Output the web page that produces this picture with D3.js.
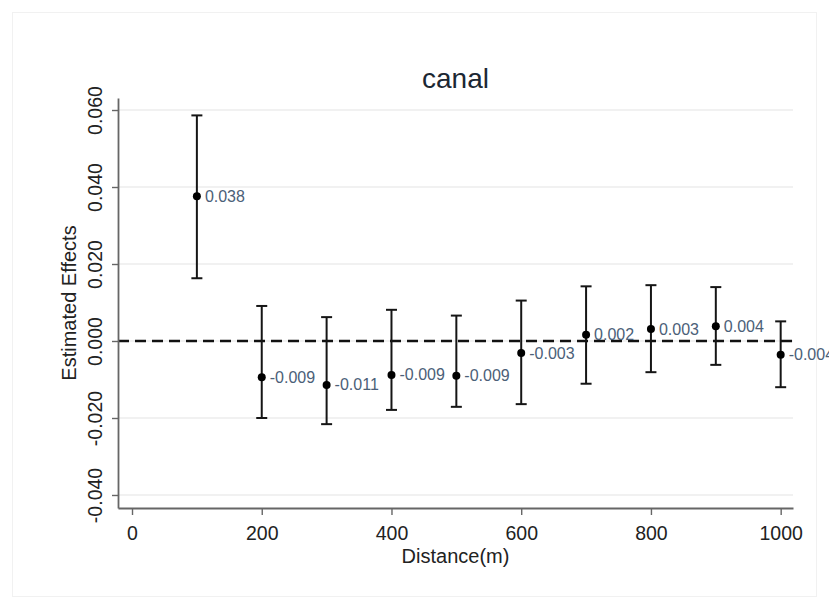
<!DOCTYPE html>
<html>
<head>
<meta charset="utf-8">
<script src="https://cdn.jsdelivr.net/npm/d3@7"></script>
<style>
  body { margin: 0; background: #fff; }
  text { font-family: "Liberation Sans", Arial, sans-serif; }
</style>
</head>
<body>
<script>
// chart data
var distances = [100, 200, 300, 400, 500, 600, 700, 800, 900, 1000];
var estimates = [0.0376, -0.0094, -0.0114, -0.0088, -0.0090, -0.0031, 0.0016, 0.0031, 0.0038, -0.0036];
var ciLower = [0.0163, -0.0200, -0.0216, -0.0179, -0.0171, -0.0164, -0.0111, -0.0081, -0.0062, -0.0120];
var ciUpper = [0.0586, 0.0091, 0.0062, 0.0081, 0.0066, 0.0105, 0.0142, 0.0145, 0.0140, 0.0051];
var xTicks = [0, 200, 400, 600, 800, 1000];
var yTicks = [-0.04, -0.02, 0, 0.02, 0.04, 0.06];
var title = "canal";
var xTitle = "Distance(m)";
var yTitle = "Estimated Effects";

// set the dimensions and margins of the graph
var W = 829, H = 610;
var margin = {top: 98, right: 36, bottom: 102, left: 118},
    width = W - margin.left - margin.right,
    height = H - margin.top - margin.bottom;

var fmt = d3.formatLocale({decimal: ".", thousands: ",", grouping: [3], currency: ["", ""], minus: "-"}).format(".3f");

// set the ranges
var x = d3.scaleLinear().domain([-21.6, 1019]).range([0, width]);
var y = d3.scaleLinear().domain([-0.04338, 0.06312]).range([height, 0]);

var data = distances.map(function(d, i) {
  return {dist: d, est: estimates[i], lo: ciLower[i], hi: ciUpper[i]};
});

var svg0 = d3.select("body").append("svg")
    .attr("width", W)
    .attr("height", H);

// faint outer frame
svg0.append("rect")
    .attr("x", 12.5).attr("y", 12.5)
    .attr("width", 804).attr("height", 584)
    .attr("fill", "none")
    .attr("stroke", "#f1f1f1");

var svg = svg0.append("g")
    .attr("transform", "translate(" + margin.left + "," + margin.top + ")");

// gridlines
svg.append("g")
  .selectAll("line")
  .data(yTicks)
  .enter().append("line")
    .attr("x1", 0).attr("x2", width)
    .attr("y1", function(d) { return y(d); })
    .attr("y2", function(d) { return y(d); })
    .attr("stroke", "#ececec")
    .attr("stroke-width", 1.5);

// zero reference line
svg.append("line")
    .attr("x1", 0).attr("x2", width - 1)
    .attr("y1", y(0)).attr("y2", y(0))
    .attr("stroke", "#111")
    .attr("stroke-width", 2.6)
    .attr("stroke-dasharray", "11,6");

// Add the X Axis
var xAxis = svg.append("g")
    .attr("transform", "translate(0," + height + ")")
    .call(d3.axisBottom(x).tickValues(xTicks).tickFormat(d3.format("d"))
      .tickSize(7).tickPadding(11).tickSizeOuter(0));
xAxis.select(".domain").attr("stroke", "#666").attr("stroke-width", 1.8);
xAxis.selectAll(".tick line").attr("stroke", "#666").attr("stroke-width", 1.4);
xAxis.selectAll(".tick text")
    .attr("font-size", 19.5)
    .attr("fill", "#222")
    .style("font-family", "Liberation Sans, Arial, sans-serif");

// Add the Y Axis
var yAxis = svg.append("g")
    .call(d3.axisLeft(y).tickValues(yTicks).tickFormat(fmt).tickSize(6).tickSizeOuter(0));
yAxis.select(".domain").attr("stroke", "#666").attr("stroke-width", 1.8);
yAxis.selectAll(".tick line").attr("stroke", "#666").attr("stroke-width", 1.4);
yAxis.selectAll(".tick text")
    .attr("x", null).attr("dy", null)
    .attr("transform", "translate(-16,0) rotate(-90)")
    .attr("text-anchor", "middle")
    .attr("font-size", 19.5)
    .attr("fill", "#222")
    .style("font-family", "Liberation Sans, Arial, sans-serif");

// error bars
var bars = svg.append("g").selectAll("g")
    .data(data)
  .enter().append("g");

bars.append("line")
    .attr("x1", function(d) { return x(d.dist); })
    .attr("x2", function(d) { return x(d.dist); })
    .attr("y1", function(d) { return y(d.lo); })
    .attr("y2", function(d) { return y(d.hi); })
    .attr("stroke", "#151515").attr("stroke-width", 2);

bars.append("line")
    .attr("x1", function(d) { return x(d.dist) - 5.5; })
    .attr("x2", function(d) { return x(d.dist) + 5.5; })
    .attr("y1", function(d) { return y(d.lo); })
    .attr("y2", function(d) { return y(d.lo); })
    .attr("stroke", "#151515").attr("stroke-width", 2);

bars.append("line")
    .attr("x1", function(d) { return x(d.dist) - 5.5; })
    .attr("x2", function(d) { return x(d.dist) + 5.5; })
    .attr("y1", function(d) { return y(d.hi); })
    .attr("y2", function(d) { return y(d.hi); })
    .attr("stroke", "#151515").attr("stroke-width", 2);

bars.append("circle")
    .attr("cx", function(d) { return x(d.dist); })
    .attr("cy", function(d) { return y(d.est); })
    .attr("r", 4)
    .attr("fill", "#000");

bars.append("text")
    .attr("x", function(d) { return x(d.dist) + 8; })
    .attr("y", function(d) { return y(d.est); })
    .attr("dy", "0.35em")
    .attr("font-size", 16)
    .attr("fill", "#4b6078")
    .text(function(d) { return fmt(d.est); });

// titles
svg0.append("text")
    .attr("x", margin.left + width / 2)
    .attr("y", 88)
    .attr("text-anchor", "middle")
    .attr("font-size", 28)
    .attr("fill", "#1c2733")
    .text(title);

svg0.append("text")
    .attr("x", margin.left + width / 2)
    .attr("y", 563)
    .attr("text-anchor", "middle")
    .attr("font-size", 20)
    .attr("fill", "#222")
    .text(xTitle);

svg0.append("text")
    .attr("transform", "translate(76," + (margin.top + height / 2) + ") rotate(-90)")
    .attr("text-anchor", "middle")
    .attr("font-size", 20)
    .attr("fill", "#222")
    .text(yTitle);
</script>
</body>
</html>
